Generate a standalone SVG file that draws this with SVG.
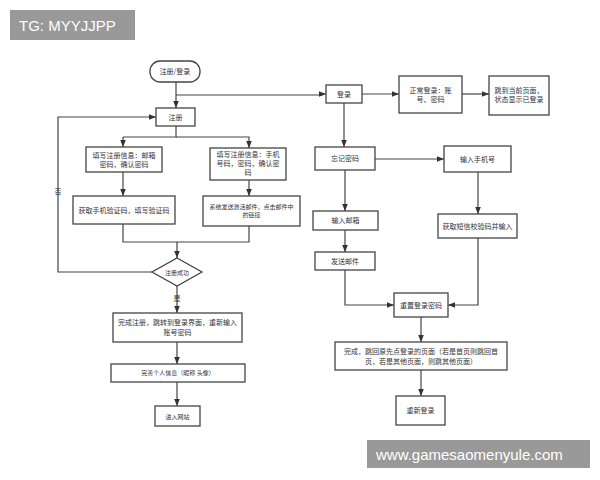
<svg xmlns="http://www.w3.org/2000/svg" width="600" height="480" viewBox="0 0 600 480">
<defs>
<marker id="a" viewBox="0 0 10 10" refX="10" refY="5" markerWidth="6" markerHeight="6" orient="auto"><path d="M0,1 L10,5 L0,9 z" fill="#333"/></marker>
<style>
.b{fill:#fff;stroke:#444;stroke-width:1.3}
.t{font-family:"Noto Sans CJK SC","Liberation Sans",sans-serif;font-size:7px;fill:#333;text-anchor:middle}
.c{fill:none;stroke:#444;stroke-width:1.2}
.m{marker-end:url(#a)}
.w{font-family:"Liberation Sans",sans-serif;font-size:15px;fill:#fff}
</style>
</defs>
<rect width="600" height="480" fill="#fff"/>
<g id="connectors">
<path class="c m" d="M176,82 V108"/>
<path class="c m" d="M176,95 H322 V94 H326"/>
<path class="c" d="M176,126 V137 H123"/>
<path class="c m" d="M123,137 V147"/>
<path class="c m" d="M176,137 H249 V148"/>
<path class="c m" d="M123,172 V196"/>
<path class="c m" d="M249,180 V196"/>
<path class="c" d="M123,224 V242 H249 V226"/>
<path class="c m" d="M177,242 V258"/>
<path class="c m" d="M152,272 H58 V117 H156"/>
<path class="c m" d="M177,286 V313"/>
<path class="c m" d="M177,342 V364"/>
<path class="c m" d="M177,382 V406"/>
<path class="c m" d="M362,94 H399"/>
<path class="c m" d="M462,94 H489"/>
<path class="c m" d="M344,103 V147"/>
<path class="c m" d="M375,159 H444"/>
<path class="c m" d="M345,170 V211"/>
<path class="c m" d="M345,230 V252"/>
<path class="c m" d="M478,172 V214"/>
<path class="c m" d="M345,270 V305 H394"/>
<path class="c m" d="M478,238 V305 H448"/>
<path class="c m" d="M421,317 V342"/>
<path class="c m" d="M421,370 V396"/>
</g>
<g id="start"><rect class="b" x="150" y="61" width="50" height="21" rx="10"/><text class="t" x="175" y="74">注册/登录</text></g>
<g id="reg"><rect class="b" x="156" y="108" width="39" height="18"/><text class="t" x="175.5" y="120">注册</text></g>
<g id="fillEmail"><rect class="b" x="86" y="147" width="76" height="25"/><text class="t" x="124" y="158">填写注册信息：邮箱</text><text class="t" x="124" y="167">密码，确认密码</text></g>
<g id="fillPhone"><rect class="b" x="210" y="148" width="76" height="32"/><text class="t" x="248" y="157">填写注册信息：手机</text><text class="t" x="248" y="166">号码，密码，确认密</text><text class="t" x="248" y="175">码</text></g>
<g id="getCode"><rect class="b" x="73" y="196" width="102" height="28"/><text class="t" x="124" y="213">获取手机验证码，填写验证码</text></g>
<g id="sendMail"><rect class="b" x="203" y="196" width="97" height="30"/><text class="t" x="251.5" y="209" style="font-size:6px">系统发送激活邮件，点击邮件中</text><text class="t" x="251.5" y="217" style="font-size:6px">的链接</text></g>
<g id="ok"><polygon class="b" points="177,258 202,272 177,286 152,272"/><text class="t" x="177" y="275" style="font-size:6px">注册成功</text></g>
<text class="t" x="58" y="194">否</text>
<text class="t" x="177" y="301">是</text>
<g id="done"><rect class="b" x="113" y="313" width="129" height="29"/><text class="t" x="177.5" y="325">完成注册，跳转到登录界面，重新输入</text><text class="t" x="177.5" y="335">账号密码</text></g>
<g id="profile"><rect class="b" x="111" y="364" width="134" height="18"/><text class="t" x="178" y="375" style="font-size:6px">完善个人信息（昵称 头像）</text></g>
<g id="enter"><rect class="b" x="155" y="406" width="45" height="20"/><text class="t" x="177.5" y="419" style="font-size:6px">进入网站</text></g>
<g id="login"><rect class="b" x="326" y="85" width="36" height="18"/><text class="t" x="344" y="97">登录</text></g>
<g id="normal"><rect class="b" x="399" y="76" width="63" height="37"/><text class="t" x="430.5" y="93">正常登录：账</text><text class="t" x="430.5" y="102">号、密码</text></g>
<g id="jump"><rect class="b" x="489" y="76" width="60" height="39"/><text class="t" x="519" y="93">跳到当前页面，</text><text class="t" x="519" y="102">状态显示已登录</text></g>
<g id="forgot"><rect class="b" x="315" y="147" width="60" height="23"/><text class="t" x="345" y="161">忘记密码</text></g>
<g id="phone"><rect class="b" x="444" y="146" width="67" height="26"/><text class="t" x="477.5" y="162">输入手机号</text></g>
<g id="email"><rect class="b" x="313" y="211" width="65" height="19"/><text class="t" x="345.5" y="223">输入邮箱</text></g>
<g id="send"><rect class="b" x="315" y="252" width="60" height="18"/><text class="t" x="345" y="264">发送邮件</text></g>
<g id="sms"><rect class="b" x="438" y="214" width="79" height="24"/><text class="t" x="477.5" y="229">获取短信校验码并输入</text></g>
<g id="reset"><rect class="b" x="394" y="293" width="54" height="24"/><text class="t" x="421" y="308">重置登录密码</text></g>
<g id="finish"><rect class="b" x="335" y="342" width="172" height="28"/><text class="t" x="421" y="354">完成，跳回原先点登录的页面（若是首页则跳回首</text><text class="t" x="421" y="364">页，若是其他页面，则跳其他页面）</text></g>
<g id="relogin"><rect class="b" x="396" y="396" width="49" height="29"/><text class="t" x="420.5" y="413">重新登录</text></g>
<rect x="10" y="10" width="125" height="30" fill="#999"/><text class="w" x="19" y="31">TG: MYYJJPP</text>
<rect x="367" y="440" width="223" height="28" fill="#999"/><text class="w" x="376" y="460">www.gamesaomenyule.com</text>
</svg>
